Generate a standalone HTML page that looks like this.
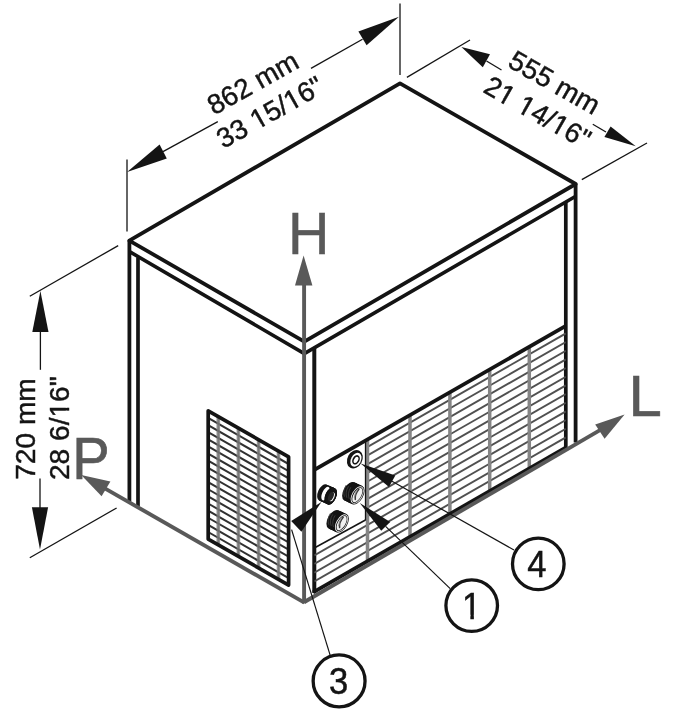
<!DOCTYPE html>
<html lang="en">
<head>
<meta charset="utf-8">
<title>Dimensions</title>
<style>
html,body{margin:0;padding:0;background:#fff;}
body{width:700px;height:713px;overflow:hidden;}
svg{display:block;will-change:transform;}
svg text{font-family:"Liberation Sans",sans-serif;}
</style>
</head>
<body>
<svg width="700" height="713" viewBox="0 0 700 713">
<rect width="700" height="713" fill="#ffffff"/>
<polygon points="129.30,240.60 400.00,83.40 575.70,184.00 304.30,341.60" fill="none" stroke="#141414" stroke-width="3.8" stroke-linejoin="round"/>
<polyline points="129.50,251.60 304.30,353.60 575.70,196.20" fill="none" stroke="#141414" stroke-width="3.6" stroke-linejoin="miter" />
<line x1="129.40" y1="240.60" x2="129.40" y2="501.50" stroke="#141414" stroke-width="3.8" stroke-linecap="butt" />
<line x1="138.00" y1="257.50" x2="138.00" y2="506.50" stroke="#141414" stroke-width="3.7" stroke-linecap="butt" />
<line x1="575.60" y1="184.00" x2="575.60" y2="442.50" stroke="#141414" stroke-width="3.8" stroke-linecap="butt" />
<line x1="565.80" y1="202.00" x2="565.80" y2="449.00" stroke="#141414" stroke-width="3.7" stroke-linecap="butt" />
<line x1="314.30" y1="348.00" x2="314.30" y2="593.00" stroke="#141414" stroke-width="4.0" stroke-linecap="butt" />
<clipPath id="lgc"><polygon points="208.2,410.8 288.6,456.9 288.6,585.1 208.2,539.1"/></clipPath>
<g clip-path="url(#lgc)">
<line x1="207.70" y1="417.73" x2="288.60" y2="464.03" stroke="#303030" stroke-width="2.0" stroke-linecap="butt" />
<line x1="207.70" y1="424.86" x2="288.60" y2="471.16" stroke="#303030" stroke-width="2.0" stroke-linecap="butt" />
<line x1="207.70" y1="431.98" x2="288.60" y2="478.28" stroke="#303030" stroke-width="2.0" stroke-linecap="butt" />
<line x1="207.70" y1="439.11" x2="288.60" y2="485.41" stroke="#303030" stroke-width="2.0" stroke-linecap="butt" />
<line x1="207.70" y1="446.24" x2="288.60" y2="492.54" stroke="#303030" stroke-width="2.0" stroke-linecap="butt" />
<line x1="207.70" y1="453.37" x2="288.60" y2="499.67" stroke="#303030" stroke-width="2.0" stroke-linecap="butt" />
<line x1="207.70" y1="460.49" x2="288.60" y2="506.79" stroke="#303030" stroke-width="2.0" stroke-linecap="butt" />
<line x1="207.70" y1="467.62" x2="288.60" y2="513.92" stroke="#303030" stroke-width="2.0" stroke-linecap="butt" />
<line x1="207.70" y1="474.75" x2="288.60" y2="521.05" stroke="#303030" stroke-width="2.0" stroke-linecap="butt" />
<line x1="207.70" y1="481.88" x2="288.60" y2="528.18" stroke="#303030" stroke-width="2.0" stroke-linecap="butt" />
<line x1="207.70" y1="489.01" x2="288.60" y2="535.31" stroke="#303030" stroke-width="2.0" stroke-linecap="butt" />
<line x1="207.70" y1="496.13" x2="288.60" y2="542.43" stroke="#303030" stroke-width="2.0" stroke-linecap="butt" />
<line x1="207.70" y1="503.26" x2="288.60" y2="549.56" stroke="#303030" stroke-width="2.0" stroke-linecap="butt" />
<line x1="207.70" y1="510.39" x2="288.60" y2="556.69" stroke="#303030" stroke-width="2.0" stroke-linecap="butt" />
<line x1="207.70" y1="517.52" x2="288.60" y2="563.82" stroke="#303030" stroke-width="2.0" stroke-linecap="butt" />
<line x1="207.70" y1="524.64" x2="288.60" y2="570.94" stroke="#303030" stroke-width="2.0" stroke-linecap="butt" />
<line x1="207.70" y1="531.77" x2="288.60" y2="578.07" stroke="#303030" stroke-width="2.0" stroke-linecap="butt" />
<line x1="218.30" y1="400.00" x2="218.30" y2="600.00" stroke="#7c7c7c" stroke-width="3.6" stroke-linecap="butt" opacity="0.82"/>
<line x1="218.30" y1="400.00" x2="218.30" y2="600.00" stroke="#6a6a6a" stroke-width="1.2" stroke-linecap="butt" opacity="0.6"/>
<line x1="238.40" y1="400.00" x2="238.40" y2="600.00" stroke="#7c7c7c" stroke-width="3.6" stroke-linecap="butt" opacity="0.82"/>
<line x1="238.40" y1="400.00" x2="238.40" y2="600.00" stroke="#6a6a6a" stroke-width="1.2" stroke-linecap="butt" opacity="0.6"/>
<line x1="258.60" y1="400.00" x2="258.60" y2="600.00" stroke="#7c7c7c" stroke-width="3.6" stroke-linecap="butt" opacity="0.82"/>
<line x1="258.60" y1="400.00" x2="258.60" y2="600.00" stroke="#6a6a6a" stroke-width="1.2" stroke-linecap="butt" opacity="0.6"/>
<line x1="278.50" y1="400.00" x2="278.50" y2="600.00" stroke="#7c7c7c" stroke-width="3.6" stroke-linecap="butt" opacity="0.82"/>
<line x1="278.50" y1="400.00" x2="278.50" y2="600.00" stroke="#6a6a6a" stroke-width="1.2" stroke-linecap="butt" opacity="0.6"/>
</g>
<polygon points="208.20,410.80 288.60,456.90 288.60,585.10 208.20,539.10" fill="none" stroke="#141414" stroke-width="3.7" stroke-linejoin="round"/>
<clipPath id="fgc"><path d="M314.3,469.8 L565.8,325.9 L565.8,447.6 L314.3,591.6Z M314.3,469.8 L365.4,440.5622664015905 L365.4,520.0 L314.3,548.0Z" clip-rule="evenodd"/></clipPath>
<g clip-path="url(#fgc)">
<line x1="314.30" y1="477.30" x2="565.80" y2="333.40" stroke="#505050" stroke-width="1.9" stroke-linecap="butt" />
<line x1="314.30" y1="485.97" x2="565.80" y2="342.07" stroke="#505050" stroke-width="1.9" stroke-linecap="butt" />
<line x1="314.30" y1="494.64" x2="565.80" y2="350.74" stroke="#505050" stroke-width="1.9" stroke-linecap="butt" />
<line x1="314.30" y1="503.31" x2="565.80" y2="359.41" stroke="#505050" stroke-width="1.9" stroke-linecap="butt" />
<line x1="314.30" y1="511.98" x2="565.80" y2="368.08" stroke="#505050" stroke-width="1.9" stroke-linecap="butt" />
<line x1="314.30" y1="520.65" x2="565.80" y2="376.75" stroke="#505050" stroke-width="1.9" stroke-linecap="butt" />
<line x1="314.30" y1="529.32" x2="565.80" y2="385.42" stroke="#505050" stroke-width="1.9" stroke-linecap="butt" />
<line x1="314.30" y1="537.99" x2="565.80" y2="394.09" stroke="#505050" stroke-width="1.9" stroke-linecap="butt" />
<line x1="314.30" y1="546.66" x2="565.80" y2="402.76" stroke="#505050" stroke-width="1.9" stroke-linecap="butt" />
<line x1="314.30" y1="555.33" x2="565.80" y2="411.43" stroke="#505050" stroke-width="1.9" stroke-linecap="butt" />
<line x1="314.30" y1="564.00" x2="565.80" y2="420.10" stroke="#505050" stroke-width="1.9" stroke-linecap="butt" />
<line x1="314.30" y1="572.67" x2="565.80" y2="428.77" stroke="#505050" stroke-width="1.9" stroke-linecap="butt" />
<line x1="314.30" y1="581.34" x2="565.80" y2="437.44" stroke="#505050" stroke-width="1.9" stroke-linecap="butt" />
</g>
<clipPath id="fgb"><polygon points="314.3,469.8 565.8,325.9 565.8,447.6 314.3,591.6"/></clipPath>
<g clip-path="url(#fgb)">
<line x1="367.50" y1="300.00" x2="367.50" y2="600.00" stroke="#858585" stroke-width="3.5" stroke-linecap="butt" />
<line x1="410.00" y1="300.00" x2="410.00" y2="600.00" stroke="#858585" stroke-width="3.5" stroke-linecap="butt" />
<line x1="449.90" y1="300.00" x2="449.90" y2="600.00" stroke="#858585" stroke-width="3.5" stroke-linecap="butt" />
<line x1="489.70" y1="300.00" x2="489.70" y2="600.00" stroke="#858585" stroke-width="3.5" stroke-linecap="butt" />
<line x1="529.30" y1="300.00" x2="529.30" y2="600.00" stroke="#858585" stroke-width="3.5" stroke-linecap="butt" />
</g>
<line x1="365.50" y1="440.56" x2="365.50" y2="520.40" stroke="#141414" stroke-width="1.3" stroke-linecap="butt" />
<line x1="314.30" y1="548.00" x2="365.50" y2="520.00" stroke="#141414" stroke-width="1.5" stroke-linecap="butt" />
<line x1="314.30" y1="469.80" x2="565.80" y2="325.90" stroke="#141414" stroke-width="3.8" stroke-linecap="butt" />
<line x1="313.10" y1="592.30" x2="567.00" y2="446.90" stroke="#141414" stroke-width="3.8" stroke-linecap="butt" />
<line x1="304.40" y1="602.60" x2="100.00" y2="485.60" stroke="#595959" stroke-width="3.9" stroke-linecap="butt" />
<polygon points="81.20,475.00 110.40,481.40 101.60,496.20" fill="#595959" stroke="none" stroke-width="0" stroke-linejoin="miter" />
<line x1="304.40" y1="602.00" x2="603.00" y2="428.40" stroke="#595959" stroke-width="3.9" stroke-linecap="butt" />
<polygon points="624.60,414.60 595.20,424.60 604.60,438.80" fill="#595959" stroke="none" stroke-width="0" stroke-linejoin="miter" />
<line x1="304.10" y1="603.60" x2="304.10" y2="284.00" stroke="#595959" stroke-width="3.9" stroke-linecap="butt" />
<polygon points="303.60,255.50 295.00,285.40 312.40,285.40" fill="#595959" stroke="none" stroke-width="0" stroke-linejoin="miter" />
<ellipse cx="354.85" cy="459.30" rx="7.4" ry="9.7" fill="#141414" stroke="none" stroke-width="0" transform="rotate(28 354.85 459.30)"/>
<ellipse cx="355.95" cy="459.80" rx="5.0" ry="7.4" fill="#ffffff" stroke="none" stroke-width="0" transform="rotate(28 355.95 459.80)"/>
<ellipse cx="356.00" cy="459.85" rx="3.5" ry="5.0" fill="#141414" stroke="none" stroke-width="0" transform="rotate(28 356.00 459.85)"/>
<ellipse cx="356.05" cy="459.90" rx="1.9" ry="3.4" fill="#ffffff" stroke="none" stroke-width="0" transform="rotate(28 356.05 459.90)"/>
<ellipse cx="349.45" cy="491.40" rx="6.0" ry="10.4" fill="#141414" stroke="none" stroke-width="0" transform="rotate(30 349.45 491.40)"/>
<ellipse cx="350.42" cy="491.85" rx="6.0" ry="10.4" fill="#141414" stroke="none" stroke-width="0" transform="rotate(30 350.42 491.85)"/>
<ellipse cx="351.39" cy="492.30" rx="6.0" ry="10.4" fill="#141414" stroke="none" stroke-width="0" transform="rotate(30 351.39 492.30)"/>
<ellipse cx="352.36" cy="492.75" rx="6.0" ry="10.4" fill="#141414" stroke="none" stroke-width="0" transform="rotate(30 352.36 492.75)"/>
<ellipse cx="353.32" cy="493.20" rx="6.0" ry="10.4" fill="#141414" stroke="none" stroke-width="0" transform="rotate(30 353.32 493.20)"/>
<ellipse cx="354.29" cy="493.65" rx="6.0" ry="10.4" fill="#141414" stroke="none" stroke-width="0" transform="rotate(30 354.29 493.65)"/>
<ellipse cx="355.26" cy="494.10" rx="6.0" ry="10.4" fill="#141414" stroke="none" stroke-width="0" transform="rotate(30 355.26 494.10)"/>
<ellipse cx="356.23" cy="494.55" rx="6.0" ry="10.4" fill="#141414" stroke="none" stroke-width="0" transform="rotate(30 356.23 494.55)"/>
<ellipse cx="357.20" cy="495.00" rx="6.0" ry="10.4" fill="#141414" stroke="none" stroke-width="0" transform="rotate(30 357.20 495.00)"/>
<path d="M344.58,496.73 q-2.2,-5.6 1.6,-11.6" fill="none" stroke="#3d3d3d" stroke-width="0.9"/>
<path d="M346.90,497.81 q-2.2,-5.6 1.6,-11.6" fill="none" stroke="#3d3d3d" stroke-width="0.9"/>
<path d="M349.23,498.89 q-2.2,-5.6 1.6,-11.6" fill="none" stroke="#3d3d3d" stroke-width="0.9"/>
<ellipse cx="357.20" cy="495.00" rx="5.25" ry="9.6" fill="#f4f4f4" stroke="none" stroke-width="0" transform="rotate(30 357.20 495.00)"/>
<ellipse cx="357.25" cy="495.05" rx="4.45" ry="8.75" fill="#141414" stroke="none" stroke-width="0" transform="rotate(30 357.25 495.05)"/>
<ellipse cx="357.35" cy="495.10" rx="3.7" ry="7.9" fill="#f0f0f0" stroke="none" stroke-width="0" transform="rotate(30 357.35 495.10)"/>
<path d="M355.30,499.40 q-0.6,-5.2 3.6,-10.2" fill="none" stroke="#3a3a3a" stroke-width="1.5" stroke-linecap="round"/>
<path d="M354.30,497.60 q0.2,-3.6 2.6,-7.4" fill="none" stroke="#8a8a8a" stroke-width="0.9" stroke-linecap="round"/>
<ellipse cx="333.75" cy="519.50" rx="6.0" ry="10.4" fill="#141414" stroke="none" stroke-width="0" transform="rotate(30 333.75 519.50)"/>
<ellipse cx="334.72" cy="519.95" rx="6.0" ry="10.4" fill="#141414" stroke="none" stroke-width="0" transform="rotate(30 334.72 519.95)"/>
<ellipse cx="335.69" cy="520.40" rx="6.0" ry="10.4" fill="#141414" stroke="none" stroke-width="0" transform="rotate(30 335.69 520.40)"/>
<ellipse cx="336.66" cy="520.85" rx="6.0" ry="10.4" fill="#141414" stroke="none" stroke-width="0" transform="rotate(30 336.66 520.85)"/>
<ellipse cx="337.62" cy="521.30" rx="6.0" ry="10.4" fill="#141414" stroke="none" stroke-width="0" transform="rotate(30 337.62 521.30)"/>
<ellipse cx="338.59" cy="521.75" rx="6.0" ry="10.4" fill="#141414" stroke="none" stroke-width="0" transform="rotate(30 338.59 521.75)"/>
<ellipse cx="339.56" cy="522.20" rx="6.0" ry="10.4" fill="#141414" stroke="none" stroke-width="0" transform="rotate(30 339.56 522.20)"/>
<ellipse cx="340.53" cy="522.65" rx="6.0" ry="10.4" fill="#141414" stroke="none" stroke-width="0" transform="rotate(30 340.53 522.65)"/>
<ellipse cx="341.50" cy="523.10" rx="6.0" ry="10.4" fill="#141414" stroke="none" stroke-width="0" transform="rotate(30 341.50 523.10)"/>
<path d="M328.88,524.83 q-2.2,-5.6 1.6,-11.6" fill="none" stroke="#3d3d3d" stroke-width="0.9"/>
<path d="M331.20,525.91 q-2.2,-5.6 1.6,-11.6" fill="none" stroke="#3d3d3d" stroke-width="0.9"/>
<path d="M333.53,526.99 q-2.2,-5.6 1.6,-11.6" fill="none" stroke="#3d3d3d" stroke-width="0.9"/>
<ellipse cx="341.50" cy="523.10" rx="5.25" ry="9.6" fill="#f4f4f4" stroke="none" stroke-width="0" transform="rotate(30 341.50 523.10)"/>
<ellipse cx="341.55" cy="523.15" rx="4.45" ry="8.75" fill="#141414" stroke="none" stroke-width="0" transform="rotate(30 341.55 523.15)"/>
<ellipse cx="341.65" cy="523.20" rx="3.7" ry="7.9" fill="#f0f0f0" stroke="none" stroke-width="0" transform="rotate(30 341.65 523.20)"/>
<path d="M339.60,527.50 q-0.6,-5.2 3.6,-10.2" fill="none" stroke="#3a3a3a" stroke-width="1.5" stroke-linecap="round"/>
<path d="M338.60,525.70 q0.2,-3.6 2.6,-7.4" fill="none" stroke="#8a8a8a" stroke-width="0.9" stroke-linecap="round"/>
<ellipse cx="322.90" cy="492.60" rx="4.9" ry="8.9" fill="#141414" stroke="none" stroke-width="0" transform="rotate(24 322.90 492.60)"/>
<ellipse cx="323.95" cy="493.06" rx="4.9" ry="8.9" fill="#141414" stroke="none" stroke-width="0" transform="rotate(24 323.95 493.06)"/>
<ellipse cx="325.00" cy="493.53" rx="4.9" ry="8.9" fill="#141414" stroke="none" stroke-width="0" transform="rotate(24 325.00 493.53)"/>
<ellipse cx="326.05" cy="493.99" rx="4.9" ry="8.9" fill="#141414" stroke="none" stroke-width="0" transform="rotate(24 326.05 493.99)"/>
<ellipse cx="327.10" cy="494.45" rx="4.9" ry="8.9" fill="#141414" stroke="none" stroke-width="0" transform="rotate(24 327.10 494.45)"/>
<ellipse cx="328.15" cy="494.91" rx="4.9" ry="8.9" fill="#141414" stroke="none" stroke-width="0" transform="rotate(24 328.15 494.91)"/>
<ellipse cx="329.20" cy="495.38" rx="4.9" ry="8.9" fill="#141414" stroke="none" stroke-width="0" transform="rotate(24 329.20 495.38)"/>
<ellipse cx="330.25" cy="495.84" rx="4.9" ry="8.9" fill="#141414" stroke="none" stroke-width="0" transform="rotate(24 330.25 495.84)"/>
<ellipse cx="331.30" cy="496.30" rx="4.9" ry="8.9" fill="#141414" stroke="none" stroke-width="0" transform="rotate(24 331.30 496.30)"/>
<ellipse cx="325.60" cy="493.60" rx="3.4" ry="7.3" fill="#ffffff" stroke="none" stroke-width="0" transform="rotate(24 325.60 493.60)"/>
<ellipse cx="330.00" cy="495.60" rx="4.7" ry="8.6" fill="#141414" stroke="none" stroke-width="0" transform="rotate(24 330.00 495.60)"/>
<ellipse cx="330.18" cy="495.69" rx="4.7" ry="8.6" fill="#141414" stroke="none" stroke-width="0" transform="rotate(24 330.18 495.69)"/>
<ellipse cx="330.35" cy="495.78" rx="4.7" ry="8.6" fill="#141414" stroke="none" stroke-width="0" transform="rotate(24 330.35 495.78)"/>
<ellipse cx="330.52" cy="495.86" rx="4.7" ry="8.6" fill="#141414" stroke="none" stroke-width="0" transform="rotate(24 330.52 495.86)"/>
<ellipse cx="330.70" cy="495.95" rx="4.7" ry="8.6" fill="#141414" stroke="none" stroke-width="0" transform="rotate(24 330.70 495.95)"/>
<ellipse cx="330.88" cy="496.04" rx="4.7" ry="8.6" fill="#141414" stroke="none" stroke-width="0" transform="rotate(24 330.88 496.04)"/>
<ellipse cx="331.05" cy="496.12" rx="4.7" ry="8.6" fill="#141414" stroke="none" stroke-width="0" transform="rotate(24 331.05 496.12)"/>
<ellipse cx="331.22" cy="496.21" rx="4.7" ry="8.6" fill="#141414" stroke="none" stroke-width="0" transform="rotate(24 331.22 496.21)"/>
<ellipse cx="331.40" cy="496.30" rx="4.7" ry="8.6" fill="#141414" stroke="none" stroke-width="0" transform="rotate(24 331.40 496.30)"/>
<ellipse cx="331.90" cy="496.90" rx="2.4" ry="4.7" fill="#ffffff" stroke="none" stroke-width="0" transform="rotate(24 331.90 496.90)"/>
<ellipse cx="330.90" cy="496.40" rx="2.5" ry="4.8" fill="#262626" stroke="none" stroke-width="0" transform="rotate(24 330.90 496.40)"/>
<polygon points="360.60,463.40 395.30,475.60 389.00,487.00" fill="#141414" stroke="none" stroke-width="0" stroke-linejoin="miter" />
<line x1="392.00" y1="481.20" x2="514.00" y2="550.00" stroke="#141414" stroke-width="1.2" stroke-linecap="butt" />
<polygon points="359.80,503.00 390.20,522.00 381.20,530.80" fill="#141414" stroke="none" stroke-width="0" stroke-linejoin="miter" />
<line x1="385.60" y1="526.40" x2="450.20" y2="588.60" stroke="#141414" stroke-width="1.2" stroke-linecap="butt" />
<polygon points="321.40,502.00 291.20,521.00 301.40,531.80" fill="#141414" stroke="none" stroke-width="0" stroke-linejoin="miter" />
<line x1="291.60" y1="529.60" x2="330.20" y2="655.40" stroke="#141414" stroke-width="1.2" stroke-linecap="butt" />
<circle cx="538.3" cy="563.9" r="25.8" fill="#fff" stroke="#141414" stroke-width="3.3"/>
<g transform="translate(527.29 577.00) scale(0.955 1)"><text font-size="36.2" fill="#141414" stroke="#141414" stroke-width="0.5">4</text></g>
<circle cx="471.7" cy="605.6" r="25.8" fill="#fff" stroke="#141414" stroke-width="3.3"/>
<g transform="translate(461.89 618.55) scale(0.955 1)"><text font-size="36.2" fill="#141414" stroke="#141414" stroke-width="0.5">1</text><rect x="1.24" y="-3.85" width="7.61" height="6.10" fill="#fff"/><rect x="12.55" y="-3.85" width="7.08" height="6.10" fill="#fff"/></g>
<circle cx="339.1" cy="680.9" r="25.95" fill="#fff" stroke="#141414" stroke-width="3.3"/>
<g transform="translate(329.09 693.60) scale(0.955 1)"><text font-size="36.2" fill="#141414" stroke="#141414" stroke-width="0.5">3</text></g>
<line x1="127.00" y1="159.50" x2="127.00" y2="231.60" stroke="#141414" stroke-width="1.3" stroke-linecap="butt" />
<line x1="400.00" y1="3.40" x2="400.00" y2="75.00" stroke="#141414" stroke-width="1.3" stroke-linecap="butt" />
<line x1="163.00" y1="151.60" x2="217.80" y2="121.60" stroke="#141414" stroke-width="1.3" stroke-linecap="butt" />
<line x1="311.00" y1="68.40" x2="362.50" y2="39.20" stroke="#141414" stroke-width="1.3" stroke-linecap="butt" />
<polygon points="127.10,172.00 159.60,144.40 166.80,158.40" fill="#141414" stroke="none" stroke-width="0" stroke-linejoin="miter" />
<polygon points="399.00,16.80 358.40,31.60 366.60,45.20" fill="#141414" stroke="none" stroke-width="0" stroke-linejoin="miter" />
<line x1="406.90" y1="77.40" x2="470.00" y2="40.00" stroke="#141414" stroke-width="1.3" stroke-linecap="butt" />
<line x1="581.80" y1="179.60" x2="647.00" y2="143.00" stroke="#141414" stroke-width="1.3" stroke-linecap="butt" />
<polygon points="461.40,47.00 490.00,54.20 482.80,67.20" fill="#141414" stroke="none" stroke-width="0" stroke-linejoin="miter" />
<polygon points="635.80,146.30 610.60,126.40 604.40,137.00" fill="#141414" stroke="none" stroke-width="0" stroke-linejoin="miter" />
<line x1="486.50" y1="61.00" x2="501.50" y2="70.00" stroke="#141414" stroke-width="1.3" stroke-linecap="butt" />
<line x1="592.80" y1="124.20" x2="606.00" y2="132.00" stroke="#141414" stroke-width="1.3" stroke-linecap="butt" />
<line x1="118.20" y1="245.60" x2="29.80" y2="296.20" stroke="#141414" stroke-width="1.3" stroke-linecap="butt" />
<line x1="116.60" y1="508.00" x2="29.80" y2="557.80" stroke="#141414" stroke-width="1.3" stroke-linecap="butt" />
<polygon points="40.40,291.00 32.30,332.00 48.50,332.00" fill="#141414" stroke="none" stroke-width="0" stroke-linejoin="miter" />
<line x1="40.40" y1="331.00" x2="40.40" y2="369.80" stroke="#141414" stroke-width="1.3" stroke-linecap="butt" />
<polygon points="40.00,549.40 31.90,507.20 48.10,507.20" fill="#141414" stroke="none" stroke-width="0" stroke-linejoin="miter" />
<line x1="40.00" y1="478.60" x2="40.00" y2="508.00" stroke="#141414" stroke-width="1.3" stroke-linecap="butt" />
<g transform="translate(213.90 115.50) rotate(-29.2)"><text font-size="27.6" fill="#141414" stroke="#141414" stroke-width="0.45">862 mm</text></g>
<g transform="translate(223.30 148.90) rotate(-29.2)"><text font-size="27.6" fill="#141414" stroke="#141414" stroke-width="0.45">33 15/16&quot;</text><rect x="39.28" y="-3.19" width="5.80" height="5.41" fill="#fff"/><rect x="47.97" y="-3.19" width="5.40" height="5.41" fill="#fff"/><rect x="77.65" y="-3.19" width="5.80" height="5.41" fill="#fff"/><rect x="86.34" y="-3.19" width="5.40" height="5.41" fill="#fff"/></g>
<g transform="translate(506.50 66.10) rotate(29.6)"><text font-size="27.6" fill="#141414" stroke="#141414" stroke-width="0.45">555 mm</text></g>
<g transform="translate(482.00 91.60) rotate(29.6)"><text font-size="27.6" fill="#141414" stroke="#141414" stroke-width="0.45">21 14/16&quot;</text><rect x="16.26" y="-3.19" width="5.80" height="5.41" fill="#fff"/><rect x="24.95" y="-3.19" width="5.40" height="5.41" fill="#fff"/><rect x="39.28" y="-3.19" width="5.80" height="5.41" fill="#fff"/><rect x="47.97" y="-3.19" width="5.40" height="5.41" fill="#fff"/><rect x="77.65" y="-3.19" width="5.80" height="5.41" fill="#fff"/><rect x="86.34" y="-3.19" width="5.40" height="5.41" fill="#fff"/></g>
<g transform="translate(34.90 479.80) rotate(-90)"><text font-size="28.1" fill="#141414" stroke="#141414" stroke-width="0.45">720 mm</text></g>
<g transform="translate(69.00 480.00) rotate(-90)"><text font-size="28.1" fill="#141414" stroke="#141414" stroke-width="0.45">28 6/16&quot;</text><rect x="63.43" y="-3.22" width="5.91" height="5.45" fill="#fff"/><rect x="72.27" y="-3.22" width="5.49" height="5.45" fill="#fff"/></g>
<text transform="translate(287.9 254.2) scale(0.98 1)" font-size="58.5" fill="#595959" stroke="#595959" stroke-width="0.5">H</text>
<text transform="translate(628.5 415.75) scale(1.04 1)" font-size="57.6" fill="#595959" stroke="#595959" stroke-width="0.6">L</text>
<text transform="translate(72.35 478.9) scale(0.95 1)" font-size="59" fill="#595959" stroke="#595959" stroke-width="0.7">P</text>
</svg>
</body>
</html>
